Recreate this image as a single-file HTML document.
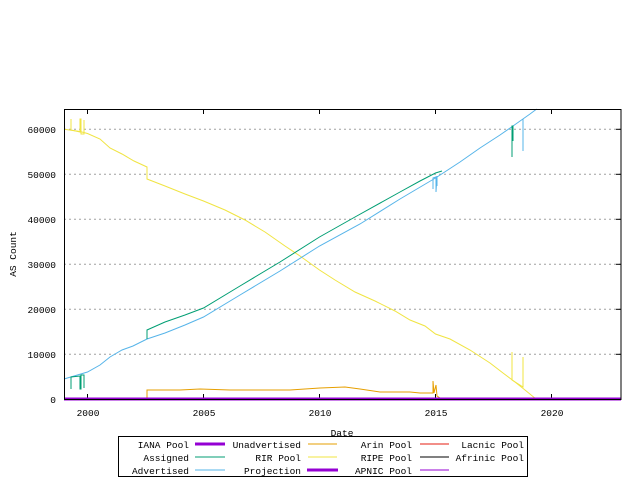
<!DOCTYPE html>
<html><head><style>body{margin:0;background:#fff}svg{display:block}text{font-family:"Liberation Mono",monospace;font-size:9.5px;fill:#000}</style></head><body>
<svg width="640" height="480" xmlns="http://www.w3.org/2000/svg">
<g stroke="#a0a0a0" stroke-dasharray="2,3" stroke-width="1">
<line x1="64" x2="621" y1="354.3" y2="354.3"/><line x1="64" x2="621" y1="309.3" y2="309.3"/><line x1="64" x2="621" y1="264.3" y2="264.3"/><line x1="64" x2="621" y1="219.3" y2="219.3"/><line x1="64" x2="621" y1="174.3" y2="174.3"/><line x1="64" x2="621" y1="129.3" y2="129.3"/>
</g>
<g stroke="#000" stroke-width="1">
<line x1="87.5" x2="87.5" y1="109" y2="114"/><line x1="203.5" x2="203.5" y1="109" y2="114"/><line x1="319.5" x2="319.5" y1="109" y2="114"/><line x1="435.5" x2="435.5" y1="109" y2="114"/><line x1="551.5" x2="551.5" y1="109" y2="114"/>
<line x1="87.5" x2="87.5" y1="399" y2="394"/><line x1="203.5" x2="203.5" y1="399" y2="394"/><line x1="319.5" x2="319.5" y1="399" y2="394"/><line x1="435.5" x2="435.5" y1="399" y2="394"/><line x1="551.5" x2="551.5" y1="399" y2="394"/>
<line x1="616" x2="621" y1="354.3" y2="354.3"/><line x1="616" x2="621" y1="309.3" y2="309.3"/><line x1="616" x2="621" y1="264.3" y2="264.3"/><line x1="616" x2="621" y1="219.3" y2="219.3"/><line x1="616" x2="621" y1="174.3" y2="174.3"/><line x1="616" x2="621" y1="129.3" y2="129.3"/>
</g>
<g fill="none" stroke-width="1">
<polyline stroke="#f0e442" points="64,129.3 80,131.5 87.5,133.5 100,139 110,148 122,154 134,161 147,167 147,179 165,186 185,194 203.5,201 225,210 245,220 265,232 285,246 300,256 319.5,270 335,280 355,292 375,301 395,311 410,320 425,326 435.5,334 450,339 470,350 490,363 503,373 515,382 525,390 536,399"/>
<polyline stroke="#f0e442" points="71,130 71,119 71,130 80,132 80,119 81,119 81,134 84,134 84,120 84,134"/>
<polyline stroke="#f0e442" points="512,380 512,352 512,380 523,387 523,357 523,387"/>
<polyline stroke="#56b4e9" points="64,379 87.5,372 100,365 110,357 122,350 133,346 147,339 165,333 185,325 203.5,317 240,295 280,271 319.5,246 360,224 400,199 435.5,178 460,162 480,148 500,135 513,126 530,114 536.7,109"/>
<polyline stroke="#009e73" points="147,339 147,330 165,322 185,315 203.5,308 240,286 280,262 319.5,237 355,217 400,192 420,181 435.5,173 442,171"/>
<polyline stroke="#009e73" points="71,377 71,389 71,377 80,376 80,389 81,389 81,375 84,375 84,388 84,375"/>
<polyline stroke="#009e73" points="512,126 512,157 512,126 513,126 513,141"/>
<polyline stroke="#56b4e9" points="433,178 433,189 433,178 436,177 436,192 437,176 437,186"/>
<polyline stroke="#56b4e9" points="523,119 523,151 523,119"/>
<polyline stroke="#e69f00" points="147,399 147,390 180,390 200,389 230,390 260,390 290,390 320,388 345,387 360,389 380,392 410,392 420,393 433,393 433,381 434,393 436,385 437,396 440,398 442,399"/>
</g>
<line x1="64" x2="621" y1="399" y2="399" stroke="#9400d3" stroke-width="3"/>
<rect x="64.5" y="109.5" width="556.5" height="290" fill="none" stroke="#000"/>
<g text-anchor="end">
<text x="56" y="403">0</text><text x="56" y="358">10000</text><text x="56" y="313">20000</text><text x="56" y="268">30000</text><text x="56" y="223">40000</text><text x="56" y="178">50000</text><text x="56" y="133">60000</text>
</g>
<g text-anchor="middle">
<text x="88" y="416">2000</text><text x="204" y="416">2005</text><text x="320" y="416">2010</text><text x="436" y="416">2015</text><text x="552" y="416">2020</text>
<text x="342" y="436">Date</text>
</g>
<text transform="translate(16,254) rotate(-90)" text-anchor="middle">AS Count</text>
<rect x="118.5" y="436.5" width="409" height="40" fill="none" stroke="#000"/>
<g text-anchor="end">
<text x="189" y="448">IANA Pool</text><text x="189" y="461">Assigned</text><text x="189" y="474">Advertised</text>
<text x="301" y="448">Unadvertised</text><text x="301" y="461">RIR Pool</text><text x="301" y="474">Projection</text>
<text x="412" y="448">Arin Pool</text><text x="412" y="461">RIPE Pool</text><text x="412" y="474">APNIC Pool</text>
<text x="524" y="448">Lacnic Pool</text><text x="524" y="461">Afrinic Pool</text>
</g>
<g stroke-width="1">
<line x1="195" x2="225" y1="444" y2="444" stroke="#9400d3" stroke-width="3"/>
<line x1="195" x2="225" y1="457" y2="457" stroke="#009e73"/>
<line x1="195" x2="225" y1="470" y2="470" stroke="#56b4e9"/>
<line x1="308" x2="337" y1="444" y2="444" stroke="#e69f00"/>
<line x1="308" x2="337" y1="457" y2="457" stroke="#f0e442"/>
<line x1="307" x2="338" y1="470" y2="470" stroke="#9400d3" stroke-width="3"/>
<line x1="420" x2="449" y1="444" y2="444" stroke="#e51e10"/>
<line x1="420" x2="449" y1="457" y2="457" stroke="#000"/>
<line x1="420" x2="449" y1="470" y2="470" stroke="#9400d3"/>
</g>
</svg>
</body></html>
